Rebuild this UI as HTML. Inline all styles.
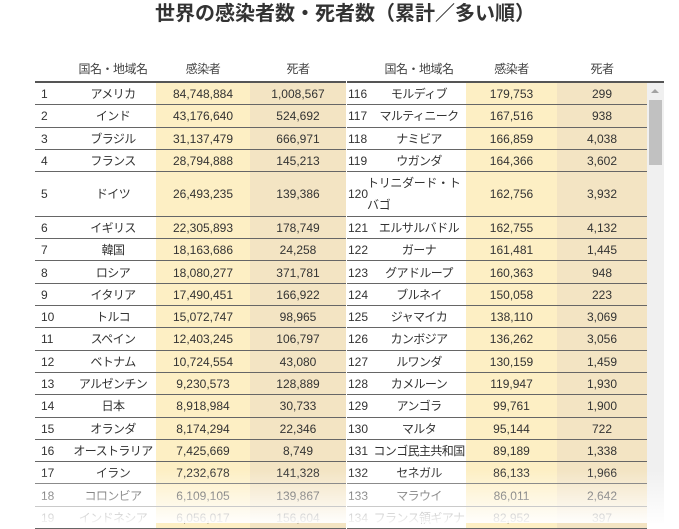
<!DOCTYPE html>
<html><head><meta charset="utf-8">
<style>
body{margin:0;width:679px;height:523px;overflow:hidden;background:#fff;font-family:"Liberation Sans","Noto Sans CJK JP",sans-serif;color:#333;position:relative}
#title{position:absolute;left:0;width:690px;top:-3px;text-align:center;font-size:20px;font-weight:bold;color:#333;font-family:"Noto Sans CJK JP",sans-serif}
.c{position:absolute;font-size:12px;display:flex;align-items:center;justify-content:center;box-sizing:border-box;text-align:center;line-height:22px;white-space:nowrap}
.nm{letter-spacing:-0.6px}
.hdr{position:absolute;font-size:12px;text-align:center;top:60px;color:#444;letter-spacing:-0.5px}
.line{position:absolute;height:1px;background:#666}
#fade{position:absolute;left:0;top:470px;width:679px;height:53px;background:linear-gradient(rgba(255,255,255,0),rgba(255,255,255,0.95))}
</style></head><body>
<div id="title">世界の感染者数・死者数（累計／多い順）</div>
<div id="tbl"></div>
<div style="position:absolute;left:647px;top:83px;width:17px;height:440px;background:#f0f0f0"></div>
<div style="position:absolute;left:649px;top:100px;width:13px;height:65px;background:#c1c1c1"></div>
<div style="position:absolute;left:651px;top:89px;width:0;height:0;border-left:4px solid transparent;border-right:4px solid transparent;border-bottom:4px solid #a3a3a3"></div>
<div id="fade"></div>
<script>
const leftRanks=[1,2,3,4,5,6,7,8,9,10,11,12,13,14,15,16,17,18,19];
const leftNames=["アメリカ","インド","ブラジル","フランス","ドイツ","イギリス","韓国","ロシア","イタリア","トルコ","スペイン","ベトナム","アルゼンチン","日本","オランダ","オーストラリア","イラン","コロンビア","インドネシア"];
const leftCases=["84,748,884","43,176,640","31,137,479","28,794,888","26,493,235","22,305,893","18,163,686","18,080,277","17,490,451","15,072,747","12,403,245","10,724,554","9,230,573","8,918,984","8,174,294","7,425,669","7,232,678","6,109,105","6,056,017"];
const leftDeaths=["1,008,567","524,692","666,971","145,213","139,386","178,749","24,258","371,781","166,922","98,965","106,797","43,080","128,889","30,733","22,346","8,749","141,328","139,867","156,604"];
const rightRanks=[116,117,118,119,120,121,122,123,124,125,126,127,128,129,130,131,132,133,134];
const rightNames=["モルディブ","マルティニーク","ナミビア","ウガンダ","トリニダード・トバゴ","エルサルバドル","ガーナ","グアドループ","ブルネイ","ジャマイカ","カンボジア","ルワンダ","カメルーン","アンゴラ","マルタ","コンゴ民主共和国","セネガル","マラウイ","フランス領ギアナ"];
const rightCases=["179,753","167,516","166,859","164,366","162,756","162,755","161,481","160,363","150,058","138,110","136,262","130,159","119,947","99,761","95,144","89,189","86,133","86,011","82,952"];
const rightDeaths=["299","938","4,038","3,602","3,932","4,132","1,445","948","223","3,069","3,056","1,459","1,930","1,900","722","1,338","1,966","2,642","397"];
const tbl=document.getElementById('tbl');
function mk(cls,x,y,w,h,txt,bg,align){const d=document.createElement('div');d.className=cls;d.style.left=x+'px';d.style.top=y+'px';d.style.width=w+'px';if(h)d.style.height=h+'px';if(bg)d.style.background=bg;if(align)d.style.justifyContent=align;d.textContent=txt;tbl.appendChild(d);return d;}
function table(x0,cols,ranks,names,cases,deaths,side){
  const hx=[["国名・地域名",1],["感染者",2],["死者",3]];
  hx.forEach(h=>{const e=mk('hdr',cols[h[1]],0,cols[h[1]+1]-cols[h[1]],0,h[0]);e.style.top='60px';
  
  });
  const top=mk('line',cols[0],81,cols[cols.length-1]-cols[0],0,'');top.style.height='2px';top.style.background='#555';
  
  
  let y=83;const rh=22.3;
  for(let i=0;i<ranks.length;i++){
    const h=(i===4)?44.6:rh;
    const r=mk('c',cols[0],y,cols[1]-cols[0],h,ranks[i],null,'flex-start');r.style.paddingLeft=(side==='right'?'1px':'6px');
    const n=mk('c nm',cols[1],y,cols[2]-cols[1],h,names[i]);
    if(i===4&&side==='right'){n.style.justifyContent='flex-start';n.style.textAlign='left';n.style.whiteSpace='normal';n.style.left=(cols[1]-5)+'px';n.style.width='100px';n.style.letterSpacing='-0.3px';}
    const c=mk('c',cols[2],y,cols[3]-cols[2],h,cases[i],'#fdefc4');
    const d=mk('c',cols[3],y,cols[4]-cols[3],h,deaths[i],'#f3e4c3');
    y+=h;
    const l=mk('line',cols[0],y-1,cols[4]-cols[0],0,'');
  }
}
table(35,[35,70,156,250,346],leftRanks,leftNames,leftCases,leftDeaths,'left');
table(347,[347,372,466,557,647],rightRanks,rightNames,rightCases,rightDeaths,'right');
const ext=mk('line',647,81,17,0,'');ext.style.height='2px';ext.style.background='#555';


</script>
</body></html>
